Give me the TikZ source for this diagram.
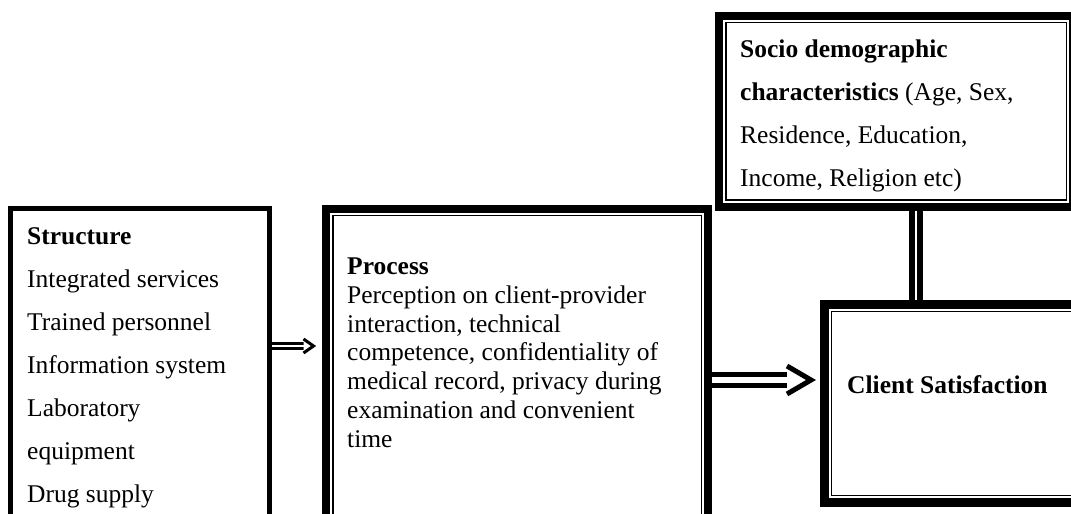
\documentclass[tikz,border=0pt]{standalone}
\usepackage{fontspec}
\setmainfont{Liberation Serif}
\usetikzlibrary{arrows.meta,positioning}
\begin{document}
\begin{tikzpicture}[x=1pt, y=1pt,
  frame node/.style={draw, inner sep=0pt, line width=#1},
  inner frame/.style={path picture={\draw[line width=1.5pt] ([shift={(#1,-#1)}]path picture bounding box.north west) rectangle ([shift={(-#1,#1)}]path picture bounding box.south east);}},
  wide text/.style={anchor=north west, inner sep=0pt, align=left, font=\fontsize{25.5}{43}\selectfont},
  tight text/.style={anchor=north west, inner sep=0pt, align=left, font=\fontsize{25.5}{28.7}\selectfont},
  small arrow/.style={double, double distance=2.5pt, line width=3pt, shorten >=18.5pt},
  big arrow/.style={double, double distance=6pt, line width=5pt, shorten >=33pt},
  arrow head/.style={line width=#1, line join=miter, fill=white},
  link/.style={double, double distance=2pt, line width=6pt}]
\useasboundingbox (0,0) rectangle (1071,514);
\clip (0,0) rectangle (1071,514);
% frames
\node [frame node=5pt, minimum width=259pt, minimum height=331.5pt] (struct) at (140,139.75) {};
\node [frame node=8pt, inner frame=6.75pt, minimum width=382pt, minimum height=336pt] (proc) at (517,137) {};
\node [frame node=8pt, inner frame=6.75pt, minimum width=354pt, minimum height=191pt] (socio) at (896,402.5) {};
\node [frame node=9pt, inner frame=7pt, minimum width=275.5pt, minimum height=198pt] (client) at (962.25,110.5) {};
% texts
\node [wide text] (structtext) at (27,287) {\textbf{Structure}\\Integrated services\\Trained personnel\\Information system\\Laboratory\\equipment\\Drug supply};
\node [tight text] (proctext) at (347,256) {\textbf{Process}\\Perception on client-provider\\interaction, technical\\competence, confidentiality of\\medical record, privacy during\\examination and convenient\\time};
\node [wide text] (sociotext) at (740,474) {\textbf{Socio demographic}\\\textbf{characteristics} (Age, Sex,\\Residence, Education,\\Income, Religion etc)};
\node [wide text] (clienttext) at (847,139) {\textbf{Client Satisfaction}};
% connectors
\coordinate (tip1) at ([yshift=28.25pt, xshift=-8.5pt]struct.east -| proc.west);
\coordinate (tip2) at ([yshift=-3pt, xshift=-9pt]proc.east -| client.west);
\draw [small arrow] ([yshift=28.25pt]struct.east) -- ([yshift=28.25pt]struct.east -| proc.west);
\draw [arrow head=3pt] ([shift={(-10pt,7pt)}]tip1) -- (tip1) -- ([shift={(-10pt,-7pt)}]tip1);
\draw [big arrow] ([yshift=-3pt]proc.east) -- ([yshift=-3pt]proc.east -| client.west);
\draw [arrow head=5pt] ([shift={(-24pt,14pt)}]tip2) -- (tip2) -- ([shift={(-24pt,-14pt)}]tip2);
\draw [link] ([xshift=20pt]socio.south) -- ([xshift=20pt]socio.south |- client.north);
\end{tikzpicture}
\end{document}
